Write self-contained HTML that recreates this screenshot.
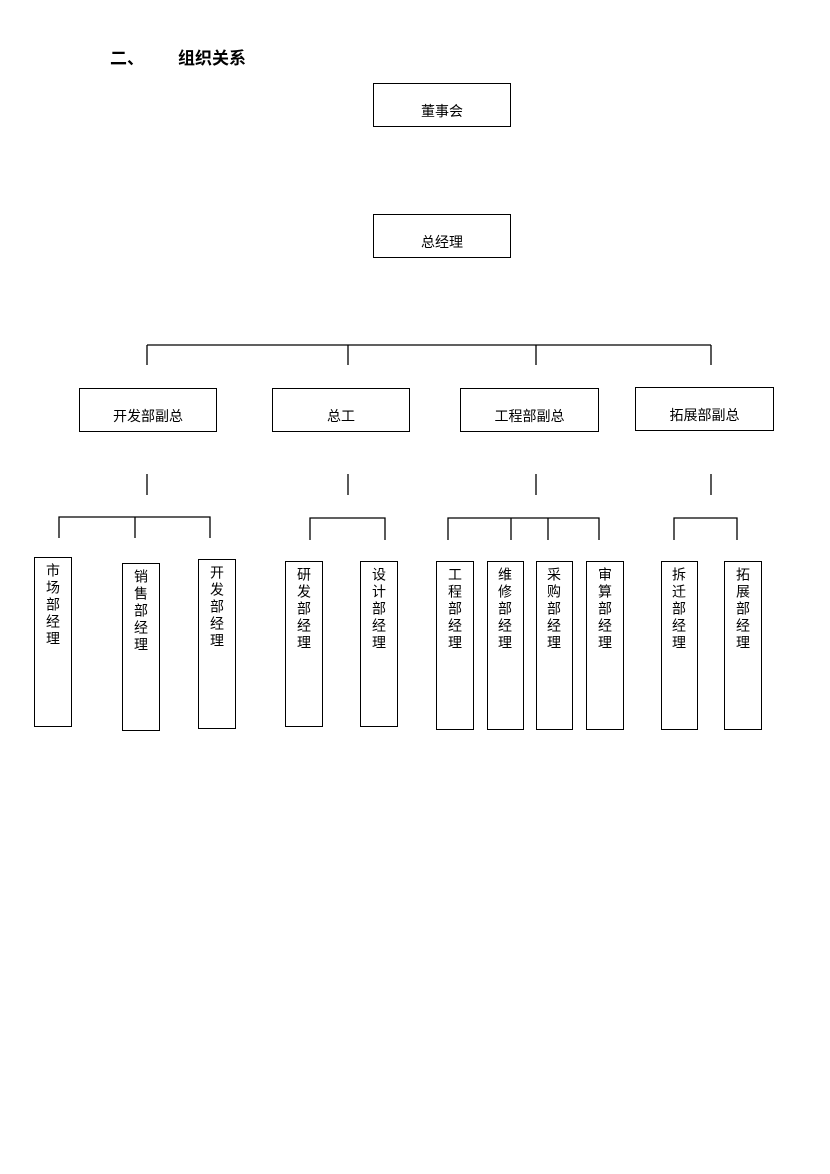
<!DOCTYPE html>
<html><head><meta charset="utf-8">
<style>
body{margin:0;width:830px;height:1174px;background:#fff;position:relative;overflow:hidden;font-family:"Liberation Sans","Noto Sans CJK SC",sans-serif;color:#000}
.b{position:absolute;border:1.3px solid #000;box-sizing:border-box;font-size:14px}
.h{display:flex;align-items:center;justify-content:center;padding-top:12px}
.v{writing-mode:vertical-rl;text-orientation:upright;padding-top:5px;line-height:36px;letter-spacing:3px;text-align:start}
.t{position:absolute;font-weight:bold;font-size:17px}
svg{position:absolute;left:0;top:0}
</style></head><body>
<div class="t" style="left:110px;top:44px">二、</div>
<div class="t" style="left:178px;top:44px">组织关系</div>
<div class="b h" style="left:373px;top:83px;width:138px;height:44px">董事会</div>
<div class="b h" style="left:373px;top:214px;width:138px;height:44px">总经理</div>
<svg width="830" height="1174" stroke="#000" stroke-width="1.3" fill="none">
<path d="M147 345H711M147 345V365M348 345V365M536 345V365M711 345V365"/>
<path d="M147 474V495M348 474V495M536 474V495M711 474V495"/>
<path d="M59 538V517H210V538M135 517V538"/>
<path d="M310 540V518H385V540"/>
<path d="M448 540V518H599V540M511 518V540M548 518V540"/>
<path d="M674 540V518H737V540"/>
</svg>
<div class="b h" style="left:79px;top:388px;width:138px;height:44px">开发部副总</div>
<div class="b h" style="left:272px;top:388px;width:138px;height:44px">总工</div>
<div class="b h" style="left:460px;top:388px;width:139px;height:44px">工程部副总</div>
<div class="b h" style="left:635px;top:387px;width:139px;height:44px">拓展部副总</div>
<div class="b v" style="left:34px;top:557px;width:38px;height:170px">市场部经理</div>
<div class="b v" style="left:122px;top:563px;width:38px;height:168px">销售部经理</div>
<div class="b v" style="left:198px;top:559px;width:38px;height:170px">开发部经理</div>
<div class="b v" style="left:285px;top:561px;width:38px;height:166px">研发部经理</div>
<div class="b v" style="left:360px;top:561px;width:38px;height:166px">设计部经理</div>
<div class="b v" style="left:436px;top:561px;width:38px;height:169px">工程部经理</div>
<div class="b v" style="left:487px;top:561px;width:37px;height:169px">维修部经理</div>
<div class="b v" style="left:536px;top:561px;width:37px;height:169px">采购部经理</div>
<div class="b v" style="left:586px;top:561px;width:38px;height:169px">审算部经理</div>
<div class="b v" style="left:661px;top:561px;width:37px;height:169px">拆迁部经理</div>
<div class="b v" style="left:724px;top:561px;width:38px;height:169px">拓展部经理</div>
</body></html>
